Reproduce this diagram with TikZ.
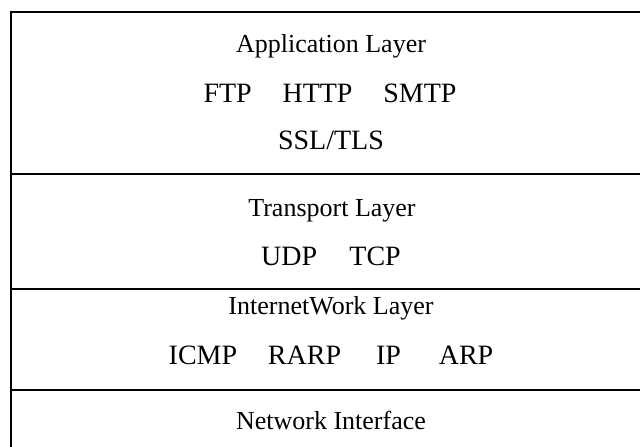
\documentclass[tikz,border=0pt]{standalone}
\usepackage{fontspec}
\setmainfont{Liberation Serif}
\begin{document}
\begin{tikzpicture}[x=1pt,y=-1pt,
  rule/.style={line width=1.5pt},
  title/.style={anchor=base,inner sep=0pt,font=\fontsize{26}{30}\selectfont},
  proto/.style={anchor=base,inner sep=0pt,font=\fontsize{28}{32}\selectfont}]
  \useasboundingbox (0,0) rectangle (640,447);
  % stack frame: left edge and layer separators, running past the right and bottom edges
  \begin{scope}
    \clip (0,0) rectangle (640,447);
    \draw[rule] (660,12) -| (11,470);
    \draw[rule] (11,174) -- (660,174);
    \draw[rule] (11,289) -- (660,289);
    \draw[rule] (11,390) -- (660,390);
  \end{scope}
  % application layer
  \node[title] (app) at (331,52) {Application Layer};
  \node[proto] (appp) at (330,102) {FTP\hspace{1.1em}HTTP\hspace{1.1em}SMTP};
  \node[proto] (tls) at (331,149) {SSL/TLS};
  % transport layer
  \node[title] (tra) at (332,216) {Transport Layer};
  \node[proto] (trap) at (331,265) {UDP\hspace{1.15em}TCP};
  % internetwork layer
  \node[title] (inet) at (331,314) {InternetWork Layer};
  \node[proto] (inetp) at (331,364) {ICMP\hspace{1.1em}RARP\hspace{1.25em}IP\hspace{1.35em}ARP};
  % network interface
  \node[title] (nif) at (331,429) {Network Interface};
\end{tikzpicture}
\end{document}
